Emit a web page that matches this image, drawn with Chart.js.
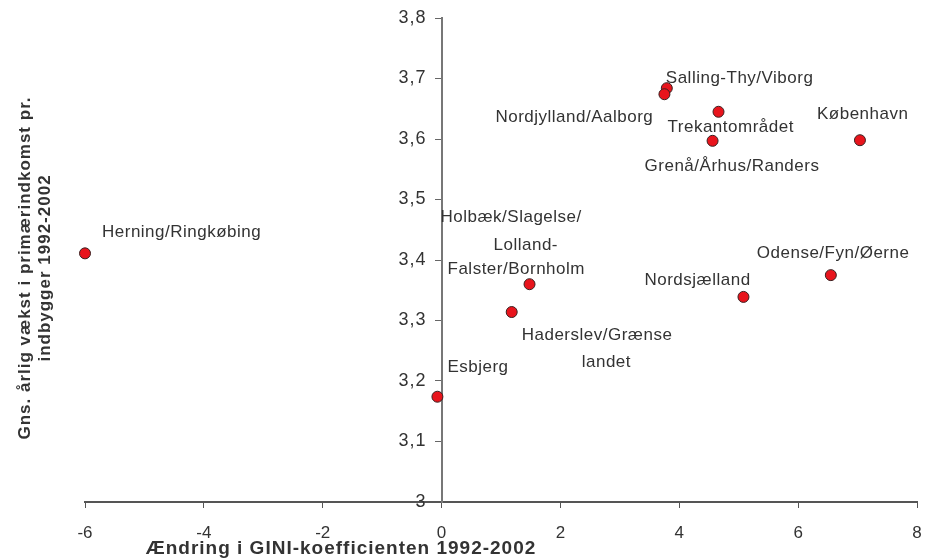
<!DOCTYPE html>
<html>
<head>
<meta charset="utf-8">
<script src="https://cdn.jsdelivr.net/npm/chart.js@4.4.1/dist/chart.umd.min.js"></script>
<style>
  body { margin: 0; background: #fff; }
  canvas { display: block; }
</style>
</head>
<body>
<canvas id="chart" width="931" height="560"></canvas>
<script>
// data
const regions = [
  "Herning/Ringkøbing", "Esbjerg", "Haderslev/Grænse landet",
  "Holbæk/Slagelse/Lolland-Falster/Bornholm", "Nordsjælland", "Odense/Fyn/Øerne",
  "København", "Grenå/Århus/Randers", "Trekantområdet",
  "Salling-Thy/Viborg", "Nordjylland/Aalborg",
];
const giniChange = [-6.0, -0.07, 1.18, 1.48, 5.08, 6.55, 7.04, 4.56, 4.66, 3.79, 3.75];
const growth = [3.411, 3.174, 3.314, 3.36, 3.339, 3.375, 3.598, 3.597, 3.645, 3.684, 3.674];

// how each label is broken into lines
const labelLines = [
  ["Herning/Ringkøbing"],
  ["Esbjerg"],
  ["Haderslev/Grænse", "landet"],
  ["Holbæk/Slagelse/", "Lolland-", "Falster/Bornholm"],
  ["Nordsjælland"],
  ["Odense/Fyn/Øerne"],
  ["København"],
  ["Grenå/Århus/Randers"],
  ["Trekantområdet"],
  ["Salling-Thy/Viborg"],
  ["Nordjylland/Aalborg"],
];

const xTitle = "Ændring i GINI-koefficienten 1992-2002";
const yTitle = ["Gns. årlig vækst i primærindkomst pr.", "indbygger 1992-2002"];

// label placement, pixels from the point (left edge, middle of line)
const labelOffsets = [
  [[17, -21]],
  [[10, -29]],
  [[10, 23], [70, 50]],
  [[-89, -67], [-36, -39], [-82, -15]],
  [[-99, -17]],
  [[-74, -22]],
  [[-43, -26]],
  [[-68, 25]],
  [[-51, 16]],
  [[-1, -10]],
  [[-169, 23]],
];

const textColor = "#333";
const fontFamily = "'Liberation Sans', Arial, sans-serif";

const fmtY = (value) => {
  let v = Math.round(value * 10) / 10;
  return Number.isInteger(v) ? String(v) : v.toFixed(1).replace(".", ",");
};

const pointLabels = {
  id: "pointLabels",
  afterDatasetsDraw(chart) {
    const ctx = chart.ctx;
    const meta = chart.getDatasetMeta(0);
    ctx.save();
    ctx.font = "17px " + fontFamily;
    ctx.letterSpacing = "0.5px";
    ctx.fillStyle = textColor;
    ctx.textAlign = "left";
    ctx.textBaseline = "middle";
    meta.data.forEach((pt, i) => {
      labelLines[i].forEach((line, j) => {
        const off = labelOffsets[i][j];
        ctx.fillText(line, pt.x + off[0], pt.y + off[1]);
      });
    });
    ctx.restore();
  },
};

// y axis sits at x = 0, so its tick labels and the titles are drawn here
const axisText = {
  id: "axisText",
  afterDraw(chart) {
    const ctx = chart.ctx;
    const ys = chart.scales.y;
    const x0 = chart.scales.x.getPixelForValue(0);
    ctx.save();
    ctx.fillStyle = textColor;
    ctx.font = "18px " + fontFamily;
    ctx.letterSpacing = "1px";
    ctx.textAlign = "right";
    ctx.textBaseline = "middle";
    ys.ticks.forEach((t, i) => {
      ctx.fillText(fmtY(t.value), x0 - 15, ys.getPixelForTick(i));
    });

    ctx.textAlign = "center";
    ctx.font = "bold 19px " + fontFamily;
    ctx.letterSpacing = "1px";
    ctx.fillText(xTitle, 341, 549);
    ctx.font = "bold 17px " + fontFamily;
    ctx.translate(0, 268);
    ctx.rotate(-Math.PI / 2);
    ctx.fillText(yTitle[0], 0, 25);
    ctx.fillText(yTitle[1], 0, 45);
    ctx.restore();
  },
};

const ctx = document.getElementById("chart").getContext("2d");
const myChart = new Chart(ctx, {
  type: "scatter",
  data: {
    datasets: [
      {
        label: "Regioner",
        data: giniChange.map((x, i) => ({ x: x, y: growth[i] })),
        backgroundColor: "#e8141c",
        borderColor: "#3a2020",
        borderWidth: 1,
        pointRadius: 5.5,
        clip: false,
      },
    ],
  },
  options: {
    responsive: false,
    animation: false,
    layout: { padding: { left: 85, right: 14, top: 18, bottom: 0 } },
    plugins: {
      legend: { display: false },
      tooltip: { enabled: false },
    },
    scales: {
      x: {
        type: "linear",
        min: -6,
        max: 8,
        afterFit: (scale) => {
          scale.height = 58;
          scale.paddingLeft = 0;
          scale.paddingRight = 0;
        },
        ticks: {
          stepSize: 2,
          padding: 17,
          color: textColor,
          font: { size: 17, family: fontFamily, lineHeight: 1 },
        },
        grid: { drawOnChartArea: false, tickLength: 6, color: "#555" },
        border: { display: true, color: "#555", width: 2 },
      },
      y: {
        type: "linear",
        position: { x: 0 },
        min: 3,
        max: 3.8,
        afterFit: (scale) => {
          scale.paddingTop = 0;
          scale.paddingBottom = 0;
        },
        ticks: {
          stepSize: 0.1,
          display: false,
        },
        grid: { drawOnChartArea: false, tickLength: 6, color: "#666" },
        border: { display: true, color: "#777", width: 2 },
      },
    },
  },
  plugins: [pointLabels, axisText],
});
</script>
</body>
</html>
